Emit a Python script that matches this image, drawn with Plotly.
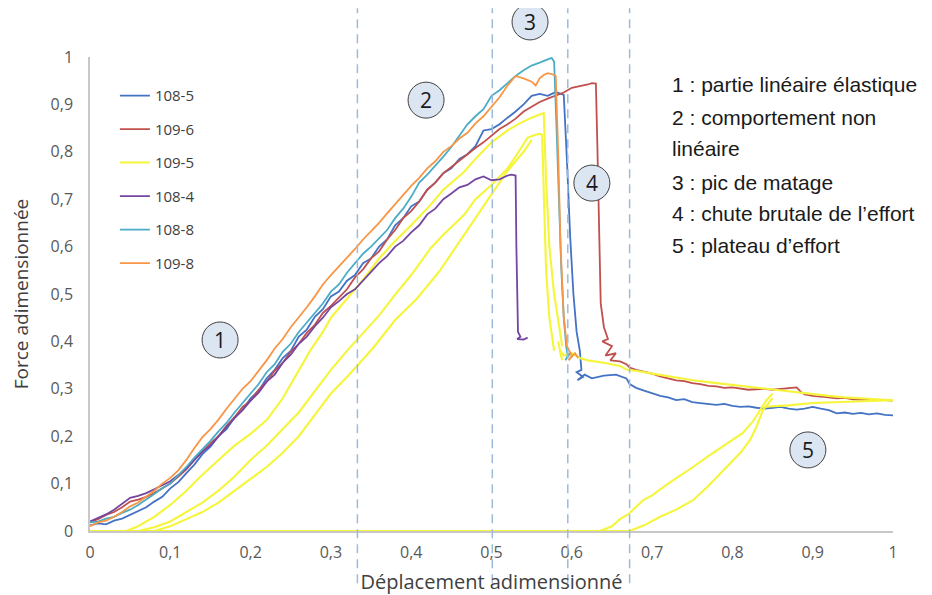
import plotly.graph_objects as go

# ---------------- data ----------------
series_names = ["108-5", "109-6", "109-5", "108-4", "108-8", "109-8"]

x_108_5 = [0, .01, .02, .03, .04, .05, .06, .07, .08, .09, .10, .11, .12, .13, .14, .15, .16, .17, .18, .19,
           .20, .21, .22, .23, .24, .25, .26, .27, .28, .29, .30, .31, .32, .33, .34, .35, .36, .37, .38, .39,
           .40, .41, .42, .43, .44, .45, .46, .47, .48, .49, .50, .51, .52, .53, .54, .55, .56, .57, .58, .59,
           .594, .598, .602, .606, .61, .612, .606, .614, .607, .616, .625, .64, .655, .668, .672, .68, .69, .70,
           .71, .72, .73, .74, .75, .76, .77, .78, .79, .80, .81, .82, .83, .84, .85, .86, .87, .88, .89, .90,
           .91, .92, .93, .94, .95, .96, .97, .98, .99, 1.0]
y_108_5 = [.012, .016, .014, .022, .026, .034, .042, .05, .062, .072, .09, .103, .122, .14, .162, .178, .2, .215, .24, .256,
           .28, .296, .322, .34, .365, .38, .41, .425, .452, .468, .495, .505, .528, .54, .565, .575, .6, .615, .645, .66,
           .685, .695, .72, .735, .755, .765, .785, .795, .812, .845, .848, .858, .872, .885, .9, .918, .922, .918, .926, .92,
           .78, .62, .5, .42, .38, .34, .335, .325, .318, .33, .322, .328, .33, .322, .31, .302, .296, .29,
           .285, .282, .276, .278, .272, .27, .268, .266, .268, .264, .262, .263, .26, .258, .26, .262, .258, .256, .258, .262,
           .258, .255, .248, .25, .247, .249, .246, .248, .245, .244]

x_109_6 = [0, .01, .02, .03, .04, .05, .06, .07, .08, .09, .10, .11, .12, .13, .14, .15, .16, .17, .18, .19,
           .20, .21, .22, .23, .24, .25, .26, .27, .28, .29, .30, .31, .32, .33, .34, .35, .36, .37, .38, .39,
           .40, .41, .42, .43, .44, .45, .46, .47, .48, .49, .50, .51, .52, .53, .54, .55, .56, .57, .58, .59,
           .60, .61, .62, .625, .63, .632, .634, .636, .64, .645, .638, .65, .642, .655, .648, .66, .668, .672, .68, .69,
           .70, .71, .72, .73, .74, .75, .76, .77, .78, .79, .80, .81, .82, .83, .84, .85, .86, .87, .88, .885,
           .89, .90, .91, .92, .93, .94, .95, .96, .97, .98, .99, 1.0]
y_109_6 = [.018, .025, .034, .04, .05, .062, .066, .072, .08, .09, .10, .115, .13, .15, .168, .185, .2, .222, .24, .262,
           .275, .298, .315, .338, .355, .378, .395, .418, .435, .46, .475, .492, .51, .535, .552, .575, .59, .615, .635, .66,
           .675, .695, .72, .735, .755, .768, .782, .795, .808, .82, .835, .848, .858, .87, .885, .895, .905, .912, .918, .925,
           .935, .938, .942, .945, .944, .80, .60, .48, .43, .405, .40, .39, .37, .375, .36, .358, .352, .345, .34, .336,
           .332, .326, .322, .318, .316, .312, .31, .306, .305, .302, .303, .30, .298, .299, .30, .298, .30, .302, .303, .294,
           .288, .285, .284, .282, .28, .281, .278, .277, .278, .276, .276, .275]

# 109-5 : cyclic test, several branches (None = break between branches)
x_109_5 = [.045, .06, .08, .10, .12, .137, .16, .18, .20, .22, .24, .26, .274, .29, .30, .32, .34, .36, .383, .40,
           .424, .44, .466, .48, .50, .52, .535, .55, .56, .565, .568, .572, .578, .583, .588, None,
           .06, .08, .10, .12, .14, .16, .18, .20, .22, .24, .26, .28, .30, .32, .333, .36, .383, .40, .424, .44,
           .466, .48, .50, .52, .53, .545, .555, .56, .563, .565, .568, .572, .578, None,
           .08, .10, .12, .14, .16, .18, .20, .22, .24, .26, .28, .30, .32, .333, .352, .38, .407, .436, .46, .48,
           .50, .52, .54, .55, None,
           0, .20, .40, .60, .672, .69, .71, .73, .751, .77, .793, .81, .822, .83, .838, .845, .85, None,
           .635, .65, .66, .67, .689, .70, .72, .74, .751, .77, .79, .813, .825, .834, .842, .85, None,
           .583, .588, .585, .59, .60, .61, .62, .64, .66, .669, .68, .70, .72, .751, .78, .80, .82, .843, .86, .88,
           .90, .92, .94, .96, .98, 1.0, None,
           .84, .87, .90, .93, .96, 1.0]
y_109_5 = [0, .01, .03, .055, .085, .114, .15, .18, .205, .234, .28, .34, .38, .42, .45, .49, .53, .575, .617, .645,
           .688, .72, .758, .785, .82, .845, .86, .872, .878, .882, .74, .60, .50, .44, .39, None,
           0, .008, .02, .04, .06, .085, .115, .15, .18, .215, .25, .295, .34, .38, .405, .455, .505, .54, .596, .625,
           .667, .70, .73, .765, .79, .83, .836, .838, .836, .70, .55, .45, .38, None,
           0, .01, .025, .04, .06, .085, .11, .135, .165, .20, .245, .29, .325, .35, .385, .445, .49, .55, .61, .66,
           .71, .76, .80, .825, None,
           0, 0, 0, 0, 0, .012, .03, .045, .065, .095, .135, .165, .192, .22, .255, .27, .28, None,
           0, .01, .025, .035, .065, .075, .10, .122, .135, .158, .18, .207, .23, .255, .275, .29, None,
           .40, .36, .382, .37, .375, .365, .36, .355, .348, .34, .338, .332, .326, .318, .312, .308, .304, .30, .296, .292,
           .288, .285, .282, .28, .278, .276, None,
           .262, .265, .27, .272, .274, .276]

x_108_4 = [0, .01, .02, .03, .04, .05, .06, .07, .08, .09, .10, .11, .12, .13, .14, .15, .16, .17, .18, .19,
           .20, .21, .22, .23, .24, .25, .26, .27, .28, .29, .30, .31, .32, .33, .34, .35, .36, .37, .38, .39,
           .40, .41, .42, .43, .44, .45, .46, .47, .48, .49, .50, .51, .52, .525, .53, .531, .532, .533, .536, .532,
           .54, .545]
y_108_4 = [.02, .028, .035, .045, .058, .07, .074, .08, .088, .096, .105, .118, .132, .15, .168, .18, .2, .218, .238, .255,
           .275, .292, .315, .33, .355, .372, .395, .41, .432, .45, .472, .485, .50, .51, .528, .545, .565, .58, .60, .612,
           .63, .645, .668, .68, .70, .712, .725, .73, .742, .748, .74, .742, .75, .752, .75, .60, .45, .42, .41, .405,
           .404, .408]

x_108_8 = [0, .01, .02, .03, .04, .05, .06, .07, .08, .09, .10, .11, .12, .13, .14, .15, .16, .17, .18, .19,
           .20, .21, .22, .23, .24, .25, .26, .27, .28, .29, .30, .31, .32, .33, .34, .35, .36, .37, .38, .39,
           .40, .41, .42, .43, .44, .45, .46, .47, .48, .49, .50, .51, .52, .53, .54, .55, .56, .565, .57, .575,
           .578, .581, .584, .587, .59, .593, .595, .592, .598]
y_108_8 = [.018, .02, .026, .03, .038, .045, .055, .066, .078, .09, .10, .118, .135, .155, .172, .19, .21, .228, .25, .27,
           .29, .31, .335, .352, .378, .395, .42, .44, .462, .48, .505, .52, .545, .565, .585, .60, .618, .635, .66, .68,
           .705, .735, .752, .77, .79, .81, .835, .858, .875, .89, .918, .93, .945, .96, .972, .982, .988, .992, .995, .998,
           .99, .85, .70, .55, .45, .39, .37, .36, .375]

x_109_8 = [0, .01, .02, .03, .04, .05, .06, .07, .08, .09, .10, .11, .12, .13, .14, .15, .16, .17, .18, .19,
           .20, .21, .22, .23, .24, .25, .26, .27, .28, .29, .30, .31, .32, .33, .34, .35, .36, .37, .38, .39,
           .40, .41, .42, .43, .44, .45, .46, .47, .48, .49, .50, .51, .52, .53, .54, .55, .555, .56, .565, .57,
           .575, .58, .583, .586, .59, .594, .60, .596, .604, .608]
y_109_8 = [.01, .018, .022, .03, .04, .052, .06, .072, .085, .10, .112, .128, .15, .175, .198, .215, .235, .258, .278, .30,
           .316, .338, .36, .385, .405, .43, .45, .472, .495, .52, .54, .558, .578, .595, .615, .632, .65, .67, .69, .71,
           .728, .745, .765, .78, .80, .812, .828, .84, .86, .875, .895, .915, .94, .96, .955, .948, .94, .955, .962, .966,
           .964, .96, .80, .60, .45, .39, .37, .36, .375, .365]

# phase boundaries (dashed vertical lines)
phase_bounds = [0.333, 0.501, 0.595, 0.672]

# numbered phase markers (positions in the 0-1 plot frame)
phase_labels = ["1", "2", "3", "4", "5"]
phase_x = [0.162, 0.4185, 0.548, 0.625, 0.894]
phase_y = [0.403, 0.909, 1.074, 0.734, 0.171]

# explanatory text lines
notes = ["1 : partie linéaire élastique", "2 : comportement non", "linéaire",
         "3 : pic de matage", "4 : chute brutale de l’effort", "5 : plateau d’effort"]
notes_y = [0.941, 0.873, 0.806, 0.736, 0.669, 0.603]

xs = [x_108_5, x_109_6, x_109_5, x_108_4, x_108_8, x_109_8]
ys = [y_108_5, y_109_6, y_109_5, y_108_4, y_108_8, y_109_8]
colors = ["#4472C4", "#C0504D", "#F5F53A", "#7446A0", "#4BACC6", "#F79646"]
widths = [1.8, 1.8, 2.1, 1.8, 1.8, 1.8]

fig = go.Figure()
for i, name in enumerate(series_names):
    fig.add_trace(go.Scatter(
        x=xs[i], y=ys[i], mode="lines", name=name, legendgroup=name,
        line=dict(color=colors[i], width=widths[i]), connectgaps=False))

for xb in phase_bounds:
    fig.add_shape(type="line", xref="x", yref="paper", x0=xb, x1=xb, y0=-0.11, y1=1.103,
                  line=dict(color="#9DBBD9", width=1.5, dash="9px,6px"))

for lab, px, py in zip(phase_labels, phase_x, phase_y):
    fig.add_shape(type="circle", xref="paper", yref="paper",
                  xsizemode="pixel", ysizemode="pixel", xanchor=px, yanchor=py,
                  x0=-18, x1=18, y0=-18, y1=18,
                  fillcolor="#DCE6F2", line=dict(color="#404040", width=1), layer="above")
    fig.add_annotation(text=lab, xref="paper", yref="paper", x=px, y=py,
                       xanchor="center", yanchor="middle", showarrow=False,
                       font=dict(family="Open Sans, sans-serif", size=21, color="#1a1a1a"))

for t, yy in zip(notes, notes_y):
    fig.add_annotation(text=t, xref="paper", yref="paper", x=0.722, y=yy,
                       xanchor="left", yanchor="middle", showarrow=False,
                       font=dict(family="Liberation Sans, Arial, sans-serif",
                                 size=21, color="#1a1a1a"))

# page body has an 8px default margin: figure is sized/offset to compensate
fig.update_layout(
    width=924, height=587,
    margin=dict(l=82, r=39, t=49, b=64),
    paper_bgcolor="white", plot_bgcolor="white",
    separators=", ",
    font=dict(family="Open Sans, sans-serif", color="#404040"),
    showlegend=True,
    legend=dict(x=0.031, y=0.953, xanchor="left", yanchor="top",
                bgcolor="rgba(0,0,0,0)", font=dict(size=15, color="#404040"),
                tracegroupgap=11, itemwidth=30),
    xaxis=dict(range=[0, 1], dtick=0.1, tick0=0, showgrid=False, zeroline=False,
               showline=True, linecolor="#C8C8C8", linewidth=1.5, ticks="",
               automargin=False, ticklabelstandoff=6,
               tickfont=dict(size=16, color="#595959"),
               title=dict(text="Déplacement adimensionné", font=dict(size=20, color="#404040"), standoff=15)),
    yaxis=dict(range=[0, 1.0], dtick=0.1, tick0=0, showgrid=False, zeroline=False,
               showline=True, linecolor="#C8C8C8", linewidth=1.5, ticks="",
               automargin=False, ticklabelstandoff=12,
               tickfont=dict(size=16, color="#595959"),
               title=dict(text="Force adimensionnée", font=dict(size=19, color="#404040"), standoff=25)),
)

fig.write_html("out.html")
